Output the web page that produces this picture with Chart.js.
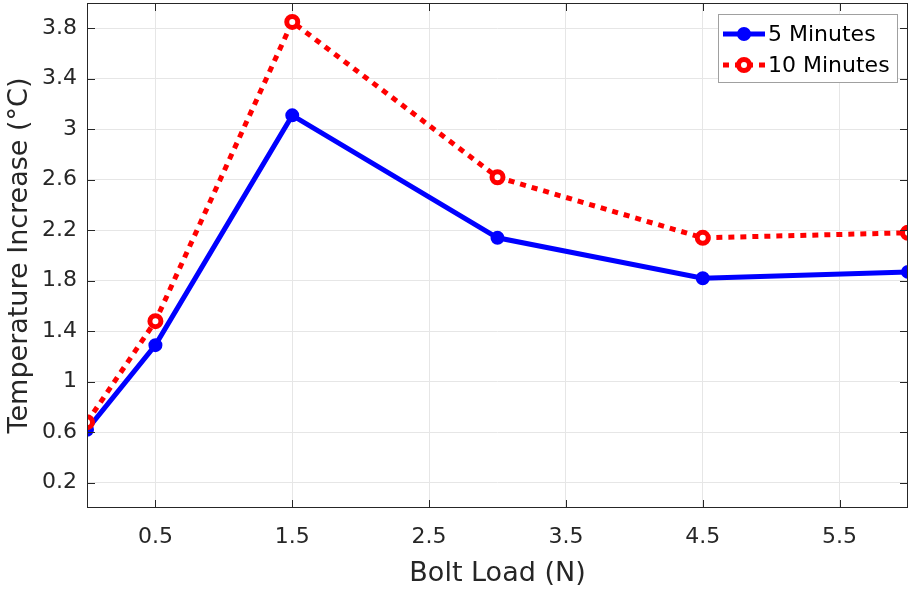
<!DOCTYPE html>
<html>
<head>
<meta charset="utf-8">
<script src="https://cdn.jsdelivr.net/npm/chart.js@4"></script>
<style>
  html, body { margin: 0; padding: 0; background: #fff; }
  #wrap { width: 912px; height: 590px; }
</style>
</head>
<body>
<div id="wrap"><canvas id="tempChart"></canvas></div>
<script>
const boltLoad = [0, 0.5, 1.5, 3, 4.5, 6];
const fiveMinutes = [0.62, 1.29, 3.11, 2.14, 1.82, 1.87];
const tenMinutes = [0.68, 1.48, 3.85, 2.62, 2.14, 2.18];
const xTicks = [0.5, 1.5, 2.5, 3.5, 4.5, 5.5];
const yTicks = [0.2, 0.6, 1, 1.4, 1.8, 2.2, 2.6, 3, 3.4, 3.8];

const FONT = "'DejaVu Sans', 'Liberation Sans', Arial, sans-serif";

function toPoints(xs, ys) {
    return xs.map((x, i) => ({ x: x, y: ys[i] }));
}

function noPadding(axis) {
    axis.paddingTop = 0;
    axis.paddingBottom = 0;
    axis.paddingLeft = 0;
    axis.paddingRight = 0;
}

// matlab style box, inner ticks and legend
const boxPlugin = {
    id: 'boxPlugin',
    afterDatasetsDraw(chart) {
        const { ctx, chartArea: a, scales } = chart;
        ctx.save();
        ctx.strokeStyle = '#262626';
        ctx.lineWidth = 1;
        ctx.strokeRect(a.left + 0.5, a.top + 0.5, a.right - a.left - 1, a.bottom - a.top - 1);
        ctx.beginPath();
        xTicks.forEach(t => {
            const px = Math.round(scales.x.getPixelForValue(t)) + 0.5;
            ctx.moveTo(px, a.bottom); ctx.lineTo(px, a.bottom - 8);
            ctx.moveTo(px, a.top); ctx.lineTo(px, a.top + 8);
        });
        yTicks.forEach(t => {
            const py = Math.round(scales.y.getPixelForValue(t)) + 0.5;
            ctx.moveTo(a.left, py); ctx.lineTo(a.left + 8, py);
            ctx.moveTo(a.right, py); ctx.lineTo(a.right - 8, py);
        });
        ctx.stroke();

        // legend
        const lx = 718, ly = 14, lw = 179, lh = 68;
        ctx.fillStyle = '#fff';
        ctx.fillRect(lx, ly, lw, lh);
        ctx.strokeStyle = '#a0a0a0';
        ctx.strokeRect(lx + 0.5, ly + 0.5, lw, lh);
        chart.data.datasets.forEach((ds, i) => {
            const cy = ly + 20 + i * 31;
            ctx.strokeStyle = ds.borderColor;
            ctx.lineWidth = ds.borderWidth;
            ctx.setLineDash(ds.borderDash || []);
            ctx.beginPath();
            ctx.moveTo(lx + 5, cy);
            ctx.lineTo(lx + 47, cy);
            ctx.stroke();
            ctx.setLineDash([]);
            ctx.beginPath();
            ctx.arc(lx + 26, cy, ds.pointRadius, 0, Math.PI * 2);
            ctx.fillStyle = ds.pointBackgroundColor;
            ctx.fill();
            ctx.lineWidth = ds.pointBorderWidth;
            ctx.strokeStyle = ds.pointBorderColor;
            ctx.stroke();
            ctx.fillStyle = '#000';
            ctx.font = '22px ' + FONT;
            ctx.textBaseline = 'middle';
            ctx.fillText(ds.label, lx + 50, cy + 1);
        });
        ctx.restore();
    }
};

const ctx = document.getElementById('tempChart').getContext('2d');
const tempChart = new Chart(ctx, {
    type: 'line',
    data: {
        datasets: [{
            label: '5 Minutes',
            data: toPoints(boltLoad, fiveMinutes),
            borderColor: '#0000ff',
            borderWidth: 5,
            pointRadius: 6,
            pointBackgroundColor: '#0000ff',
            pointBorderColor: '#0000ff',
            pointBorderWidth: 2,
            order: 1,
            tension: 0
        }, {
            label: '10 Minutes',
            data: toPoints(boltLoad, tenMinutes),
            borderColor: '#ff0000',
            borderWidth: 5,
            borderDash: [6, 6],
            pointRadius: 5.5,
            pointBackgroundColor: '#ffffff',
            pointBorderColor: '#ff0000',
            pointBorderWidth: 5,
            order: 0,
            tension: 0
        }]
    },
    options: {
        responsive: true,
        maintainAspectRatio: false,
        animation: false,
        layout: { autoPadding: false, padding: { top: 3, right: 4, left: 0, bottom: 0 } },
        plugins: {
            legend: { display: false },
            tooltip: { enabled: false }
        },
        scales: {
            x: {
                type: 'linear',
                min: 0,
                max: 6,
                afterBuildTicks: axis => { axis.ticks = xTicks.map(v => ({ value: v })); },
                afterFit: axis => { axis.height = 82; noPadding(axis); },
                grid: { color: '#e6e6e6', drawTicks: false },
                border: { display: false },
                ticks: {
                    padding: 16,
                    color: '#262626',
                    font: { family: FONT, size: 22 },
                    callback: v => String(v)
                },
                title: {
                    display: true,
                    text: 'Bolt Load (N)',
                    color: '#262626',
                    font: { family: FONT, size: 27 },
                    padding: { top: 0, bottom: 0 }
                }
            },
            y: {
                min: 0,
                max: 4,
                afterBuildTicks: axis => { axis.ticks = yTicks.map(v => ({ value: v })); },
                afterFit: axis => { axis.width = 87; noPadding(axis); },
                grid: { color: '#e6e6e6', drawTicks: false },
                border: { display: false },
                ticks: {
                    padding: 10,
                    color: '#262626',
                    font: { family: FONT, size: 22 },
                    callback: v => String(v)
                },
                title: {
                    display: true,
                    text: 'Temperature Increase (°C)',
                    color: '#262626',
                    font: { family: FONT, size: 27 },
                    padding: { top: 4, bottom: 0 }
                }
            }
        }
    },
    plugins: [boxPlugin]
});
</script>
</body>
</html>
